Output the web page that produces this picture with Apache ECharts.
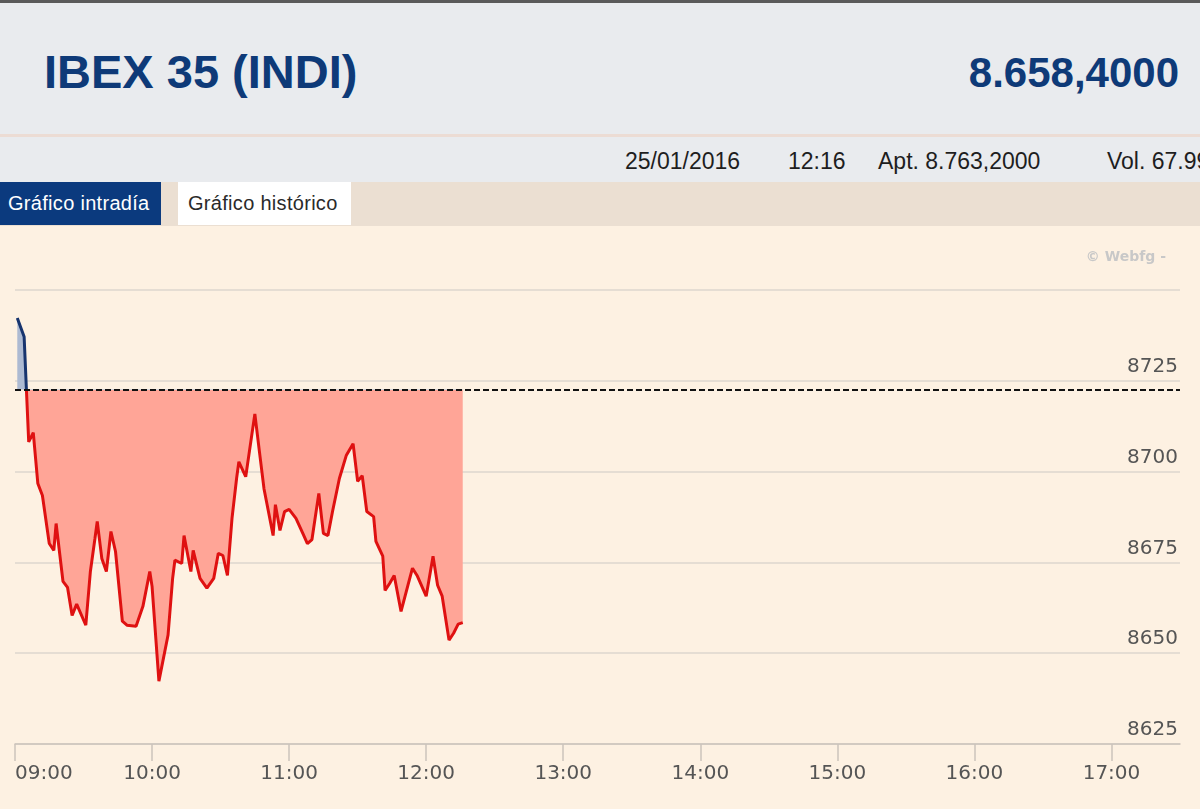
<!DOCTYPE html>
<html>
<head>
<meta charset="utf-8">
<title>IBEX 35 (INDI)</title>
<script src="https://cdn.jsdelivr.net/npm/echarts@6/dist/echarts.min.js"></script>
<style>
  html, body { margin: 0; padding: 0; }
  body { width: 1200px; height: 809px; position: relative; overflow: hidden; background: #fdf1e2; font-family: "Liberation Sans", Arial, sans-serif; }
  #head { position: absolute; left: 0; top: 0; width: 1200px; height: 134px; background: #e9ebee; border-top: 3px solid #5a5a5a; box-sizing: border-box; }
  #title { position: absolute; left: 44px; top: 41px; font-size: 47px; font-weight: bold; color: #0e3a78; }
  #last { position: absolute; right: 21px; top: 46px; font-size: 42px; font-weight: bold; color: #0e3a78; }
  #sep { position: absolute; left: 0; top: 134px; width: 1200px; height: 3px; background: #ecdcd4; }
  #info { position: absolute; left: 0; top: 137px; width: 1200px; height: 45px; background: #e9ebee; overflow: hidden; white-space: nowrap; }
  #info span { position: absolute; top: 11px; font-size: 23px; color: #1e1e1e; }
  #tabs { position: absolute; left: 0; top: 182px; width: 1200px; height: 44px; background: #ebdfd2; }
  .tab { position: absolute; top: 0; height: 43px; line-height: 43px; font-size: 20px; letter-spacing: 0.3px; padding-left: 8px; box-sizing: border-box; }
  #t1 { left: 0; width: 161px; background: #0b3a7e; color: #ffffff; }
  #t2 { left: 178px; width: 173px; background: #ffffff; color: #2a2a2a; padding-left: 10px; }
  #chart { position: absolute; left: 0; top: 226px; width: 1200px; height: 583px; }
</style>
</head>
<body>
<div id="head">
  <div id="title">IBEX 35 (INDI)</div>
  <div id="last">8.658,4000</div>
</div>
<div id="sep"></div>
<div id="info">
  <span style="left:625px">25/01/2016</span>
  <span style="left:788px">12:16</span>
  <span style="left:878px">Apt. 8.763,2000</span>
  <span style="left:1107px">Vol. 67.99</span>
</div>
<div id="tabs">
  <div class="tab" id="t1">Gráfico intradía</div>
  <div class="tab" id="t2">Gráfico histórico</div>
</div>
<div id="chart"></div>
<script>
// intraday quotes, 25/01/2016
const times = ['09:01','09:04','09:05','09:06','09:08','09:10','09:12','09:15','09:17','09:18',
  '09:21','09:23','09:25','09:27','09:31','09:33','09:35','09:36','09:38','09:40',
  '09:42','09:44','09:47','09:49','09:53','09:56','09:59','10:00','10:03','10:07',
  '10:09','10:10','10:13','10:14','10:17','10:18','10:21','10:24','10:27','10:29',
  '10:31','10:33','10:35','10:37','10:38','10:41','10:45','10:47','10:49','10:53',
  '10:54','10:56','10:58','11:00','11:03','11:06','11:08','11:10','11:13','11:15',
  '11:17','11:19','11:22','11:25','11:28','11:30','11:32','11:34','11:37','11:38',
  '11:41','11:42','11:44','11:46','11:49','11:52','11:54','11:56','12:00','12:03',
  '12:05','12:07','12:10','12:12','12:14','12:16'];
const values = [8742.3, 8737.1, 8722.5, 8708.2, 8710.7, 8696.7, 8693.4, 8680.2, 8678.3, 8685.7,
  8669.8, 8668.1, 8660.4, 8663.5, 8657.7, 8672.5, 8681.6, 8686.3, 8676.1, 8672.5,
  8683.5, 8678.0, 8658.8, 8657.7, 8657.4, 8662.9, 8672.5, 8668.4, 8642.3, 8655.0,
  8670.6, 8675.6, 8674.7, 8682.4, 8672.5, 8678.3, 8670.6, 8667.9, 8670.6, 8677.5,
  8676.9, 8671.4, 8687.1, 8698.1, 8702.7, 8698.6, 8715.9, 8705.5, 8695.3, 8682.4,
  8690.9, 8683.8, 8689.0, 8689.6, 8687.1, 8683.0, 8680.2, 8681.3, 8694.0, 8683.0,
  8682.4, 8689.0, 8698.1, 8704.4, 8707.7, 8697.3, 8698.9, 8689.0, 8687.6, 8680.8,
  8676.7, 8667.3, 8669.2, 8671.4, 8661.5, 8668.7, 8673.4, 8671.4, 8665.7, 8676.7,
  8668.7, 8665.7, 8653.6, 8655.5, 8658.0, 8658.4];
const refLevel = 8722.6;
const hourLabels = ['09:00','10:00','11:00','12:00','13:00','14:00','15:00','16:00','17:00'];
const priceTicks = [8625, 8650, 8675, 8700, 8725, 8750];

function toMin(t) {
  const p = t.split(':');
  return (+p[0] - 9) * 60 + (+p[1]);
}
const points = times.map((t, i) => [toMin(t), values[i]]);
const hourValues = hourLabels.map(toMin);
const yMin = priceTicks[0];
const yMax = priceTicks[priceTicks.length - 1];

const myChart = echarts.init(document.getElementById('chart'));

const option = {
  animation: false,
  backgroundColor: '#fdf1e2',
  grid: { left: 15, right: 20, top: 64, bottom: 65 },
  graphic: [{
    type: 'text',
    right: 34,
    top: 24,
    style: { text: '© Webfg -', fill: '#c8c8c8', font: 'bold 14px "DejaVu Sans", sans-serif' }
  }],
  xAxis: {
    type: 'value',
    min: 0,
    max: 510,
    axisLine: { show: true, lineStyle: { color: '#cbc4bc', width: 1.5 } },
    axisTick: { show: true, length: 17, lineStyle: { color: '#cbc4bc', width: 1.5 }, customValues: hourValues },
    splitLine: { show: false },
    axisLabel: {
      customValues: hourValues,
      formatter: v => hourLabels[hourValues.indexOf(v)] || '',
      alignMinLabel: 'left',
      margin: 20,
      color: '#555',
      fontSize: 20,
      fontFamily: '"DejaVu Sans", sans-serif'
    }
  },
  yAxis: {
    type: 'value',
    position: 'right',
    min: yMin,
    max: yMax,
    interval: 25,
    axisLine: { show: false },
    axisTick: { show: false },
    splitLine: { lineStyle: { color: '#ddd6ce', width: 1.5 } },
    axisLabel: {
      inside: true,
      showMaxLabel: false,
      formatter: v => String(v),
      margin: 2,
      verticalAlign: 'bottom',
      padding: [0, 0, 4, 0],
      color: '#555',
      fontSize: 20,
      fontFamily: '"DejaVu Sans", sans-serif'
    }
  },
  visualMap: [
    {
      type: 'piecewise', show: false, seriesIndex: 0, dimension: 1,
      pieces: [{ gte: yMin - 100, lt: refLevel, color: '#ffa597' }, { gte: refLevel, lte: yMax + 100, color: '#adbad2' }]
    },
    {
      type: 'piecewise', show: false, seriesIndex: 1, dimension: 1,
      pieces: [{ gte: yMin - 100, lt: refLevel, color: '#df1111' }, { gte: refLevel, lte: yMax + 100, color: '#17346e' }]
    }
  ],
  series: [
    {
      // relleno entre la curva y el cierre anterior
      type: 'line',
      data: points,
      symbol: 'none',
      silent: true,
      lineStyle: { width: 0 },
      areaStyle: { origin: refLevel, opacity: 1 }
    },
    {
      type: 'line',
      data: points,
      symbol: 'none',
      lineStyle: { width: 3 },
      markLine: {
        silent: true,
        symbol: 'none',
        label: { show: false },
        lineStyle: { color: '#111', type: [6, 3], width: 2 },
        data: [{ yAxis: refLevel }]
      },
      z: 3
    }
  ]
};

myChart.setOption(option);
</script>
</body>
</html>
